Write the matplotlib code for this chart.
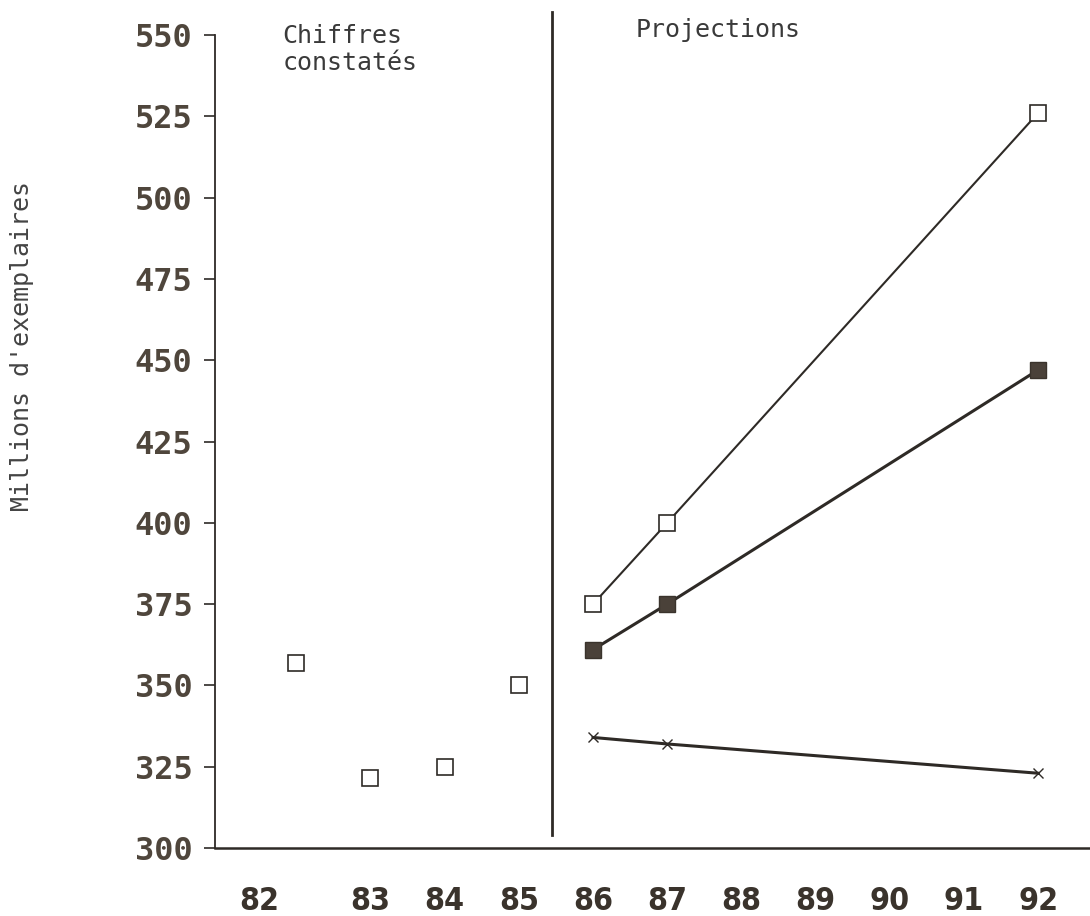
import matplotlib
matplotlib.use("Agg")
import matplotlib.pyplot as plt
import matplotlib.transforms as mtransforms

# observed figures (open squares, no line)
years_obs = [82, 83, 84, 85]
obs = [357, 321.5, 325, 350]

# projections
years_proj = [86, 87, 92]
proj_high = [375, 400, 526]
proj_mid = [361, 375, 447]
proj_low = [334, 332, 323]

x_ticks = [82, 83, 84, 85, 86, 87, 88, 89, 90, 91, 92]
x_labels = ["82", "83", "84", "85", "86", "87", "88", "89", "90", "91", "92"]
y_ticks = [300, 325, 350, 375, 400, 425, 450, 475, 500, 525, 550]

DIVIDER_X = 85.45
INK = "#2e2a26"
LABEL_INK = "#4f463c"

fig = plt.figure(figsize=(10.9, 9.16), dpi=100)
ax = fig.add_axes([0.197, 0.0742, 0.803, 0.8876])

ax.set_xlim(80.9, 92.7)
ax.set_ylim(300, 550)

# observed points
ax.plot(years_obs, obs, linestyle="none", marker="s", markersize=11.5,
        markerfacecolor="white", markeredgecolor=INK, markeredgewidth=1.2)

# projection lines
ax.plot(years_proj, proj_high, color=INK, linewidth=1.5, marker="s",
        markersize=11.5, markerfacecolor="white", markeredgecolor=INK,
        markeredgewidth=1.2)
ax.plot(years_proj, proj_mid, color=INK, linewidth=2.2, marker="s",
        markersize=11.5, markerfacecolor="#4a4139", markeredgecolor="#3a332c",
        markeredgewidth=1.0)
ax.plot(years_proj, proj_low, color=INK, linewidth=2.2, marker="x",
        markersize=7, markeredgecolor=INK, markeredgewidth=1.0)

# divider between observed and projected
ax.plot([DIVIDER_X, DIVIDER_X], [304, 557], color=INK, linewidth=2,
        clip_on=False)

ax.text(81.81, 553.5, "Chiffres\nconstatés", family="DejaVu Sans Mono",
        fontsize=18, color="#3a3a3a", va="top", ha="left",
        linespacing=1.2)
ax.text(86.58, 551.5, "Projections", family="DejaVu Sans Mono",
        fontsize=18, color="#3a3a3a", va="center", ha="left")

# axes styling
for side in ["top", "right"]:
    ax.spines[side].set_visible(False)
ax.spines["left"].set_color(INK)
ax.spines["left"].set_linewidth(1.3)
ax.spines["bottom"].set_color(INK)
ax.spines["bottom"].set_linewidth(1.8)

ax.set_yticks(y_ticks)
ax.set_yticklabels([str(v) for v in y_ticks], family="DejaVu Sans Mono",
                   fontweight="bold", fontsize=23, color=LABEL_INK)
ax.tick_params(axis="y", length=8, width=1.2, color=INK, pad=8)

ax.set_xticks(x_ticks)
ax.set_xticklabels(x_labels, family="DejaVu Sans", fontstretch="condensed",
                   fontweight="bold", fontsize=23, color="#3a332c")
ax.tick_params(axis="x", length=0, pad=27)
# first label sits a bit to the left in the original
first = ax.get_xticklabels()[0]
first.set_transform(first.get_transform() +
                    mtransforms.ScaledTranslation(-0.37, 0, fig.dpi_scale_trans))

fig.text(22 / 1090, 1 - 346 / 916, "Millions d'exemplaires",
         family="DejaVu Sans Mono", fontsize=18, color="#444444",
         rotation=90, ha="center", va="center")

fig.savefig("out.png", dpi=100)
